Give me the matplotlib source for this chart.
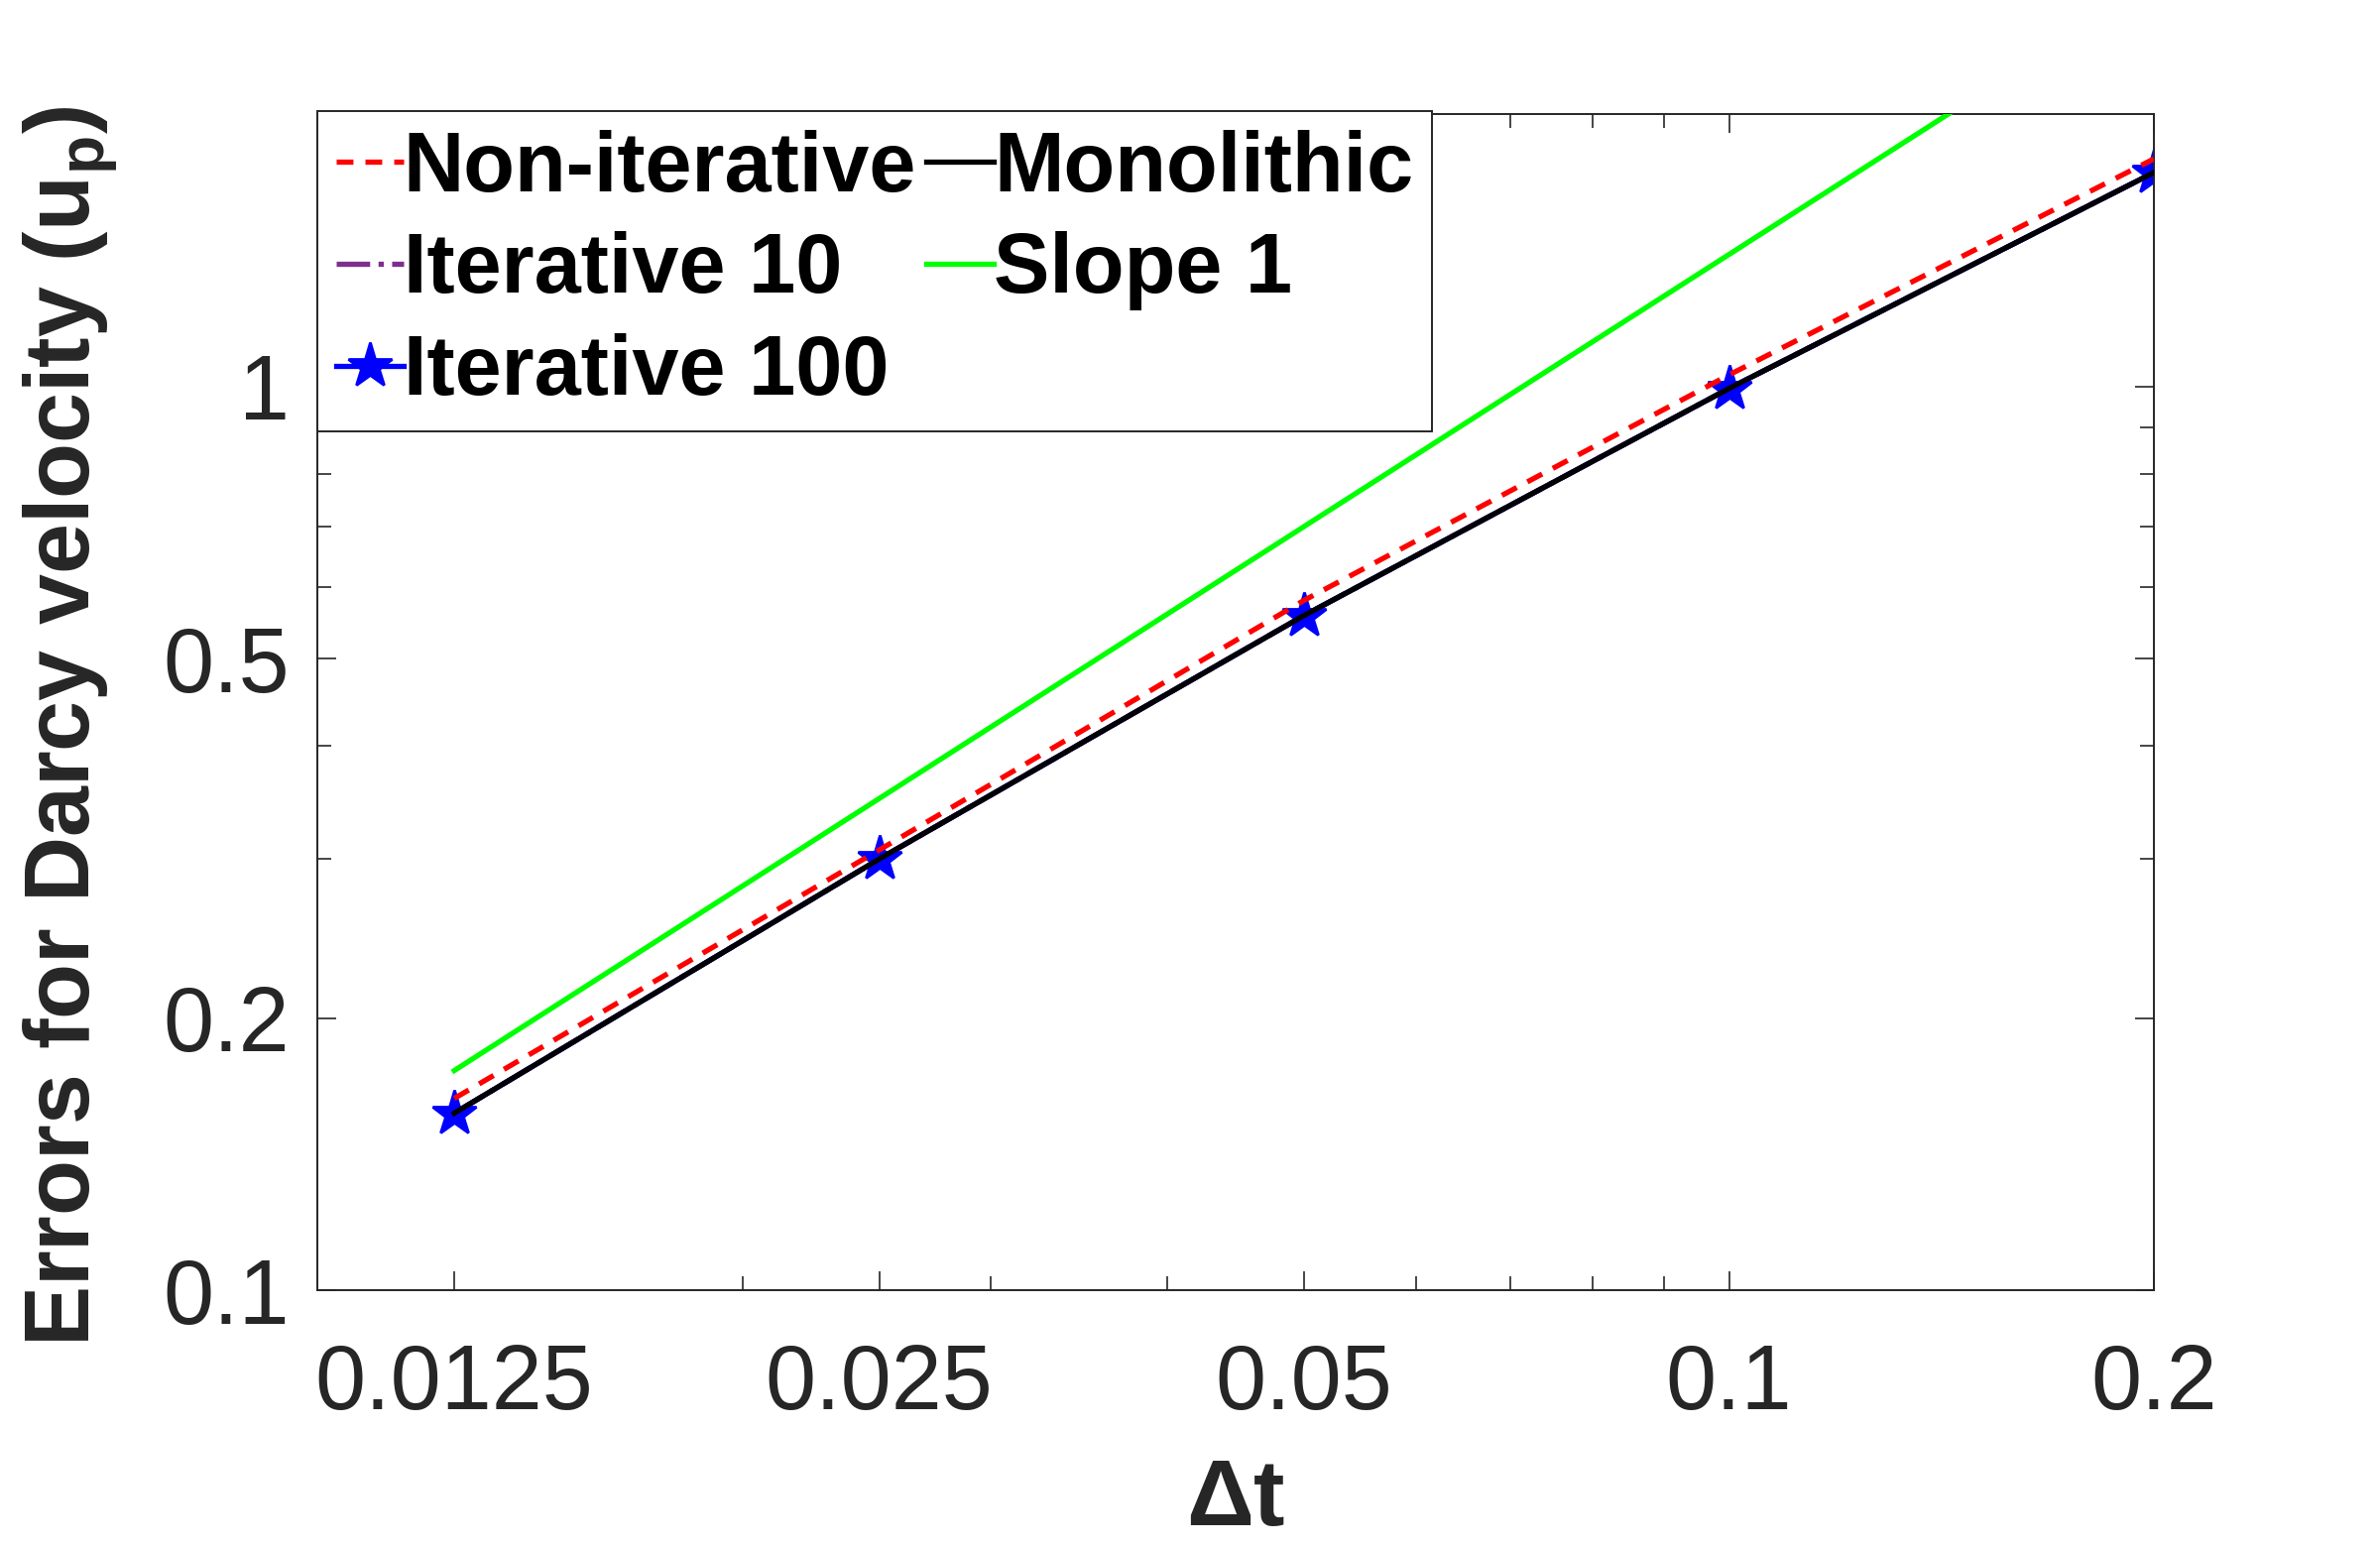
import matplotlib
matplotlib.use("Agg")
import matplotlib.pyplot as plt
from matplotlib.ticker import FixedLocator, NullFormatter, FixedFormatter

plt.rcParams['font.family'] = ['Liberation Sans', 'DejaVu Sans']
plt.rcParams['mathtext.fontset'] = 'custom'
plt.rcParams['mathtext.rm'] = 'Liberation Sans'
plt.rcParams['mathtext.bf'] = 'Liberation Sans:bold'

dt = [0.0125, 0.025, 0.05, 0.1, 0.2]
non_iterative = [0.163, 0.307, 0.580, 1.03, 1.786]
monolithic = [0.157, 0.300, 0.558, 0.995, 1.725]
iterative_10 = [0.157, 0.300, 0.558, 0.995, 1.725]
iterative_100 = [0.157, 0.300, 0.558, 0.995, 1.725]
slope_1 = [0.175, 0.35, 0.70, 1.40, 2.80]

x_ticks = [0.0125, 0.025, 0.05, 0.1, 0.2]
x_tick_labels = ['0.0125', '0.025', '0.05', '0.1', '0.2']
x_minor = [0.02, 0.03, 0.04, 0.06, 0.07, 0.08, 0.09]
y_ticks = [0.1, 0.2, 0.5, 1]
y_tick_labels = ['0.1', '0.2', '0.5', '1']
y_minor = [0.3, 0.4, 0.6, 0.7, 0.8, 0.9]

fig = plt.figure(figsize=(12, 7.8), dpi=200)
ax = fig.add_axes([0.1334, 0.166, 0.7716, 0.760])

lw = 1.9
h1, = ax.plot(dt, non_iterative, '--', color='red', lw=lw, dashes=(3.2, 2.3), zorder=3, label='Non-iterative')
h3, = ax.plot(dt, iterative_10, '-.', color='#7E2F8E', lw=lw, zorder=2, label='Iterative 10')
h5, = ax.plot(dt, iterative_100, '-', color='blue', lw=lw, marker='*', markersize=17,
              markerfacecolor='blue', markeredgecolor='blue', zorder=2.5, label='Iterative 100')
h2, = ax.plot(dt, monolithic, '-', color='black', lw=lw, zorder=4, label='Monolithic')
h4, = ax.plot(dt, slope_1, '-', color='#00FF00', lw=lw, zorder=3, label='Slope 1')

ax.set_xscale('log')
ax.set_yscale('log')
ax.set_xlim(0.01, 0.2)
ax.set_ylim(0.1, 2.0)

ax.xaxis.set_major_locator(FixedLocator(x_ticks))
ax.xaxis.set_major_formatter(FixedFormatter(x_tick_labels))
ax.xaxis.set_minor_locator(FixedLocator(x_minor))
ax.xaxis.set_minor_formatter(NullFormatter())
ax.yaxis.set_major_locator(FixedLocator(y_ticks))
ax.yaxis.set_major_formatter(FixedFormatter(y_tick_labels))
ax.yaxis.set_minor_locator(FixedLocator(y_minor))
ax.yaxis.set_minor_formatter(NullFormatter())

tc = '#262626'
ax.tick_params(which='both', direction='in', top=True, right=True, colors=tc, width=0.6)
ax.tick_params(which='major', length=7)
ax.tick_params(which='minor', length=5)
ax.tick_params(axis='x', which='major', labelsize=33, pad=19)
ax.tick_params(axis='y', which='major', labelsize=33, pad=10)
for s in ax.spines.values():
    s.set_color(tc)
    s.set_linewidth(0.7)

ax.set_xlabel(r'$\mathbf{\Delta t}$', fontsize=34, fontweight='bold', color=tc)
ax.xaxis.set_label_coords(0.5, -0.142)
ax.set_ylabel(r'Errors for Darcy velocity (u$_{\mathbf{p}}$)', fontsize=33, fontweight='bold', color=tc)
ax.yaxis.set_label_coords(-0.108, 0.48)

leg = ax.legend(handles=[h1, h3, h5, h2, h4], ncol=2, loc='upper left',
                bbox_to_anchor=(0.0, 1.003), borderaxespad=0.0,
                prop={'family': 'Liberation Sans', 'weight': 'bold', 'size': 30.5},
                handlelength=0.8, handletextpad=0.0, columnspacing=0.12,
                borderpad=0.22, labelspacing=0.27, fancybox=False, framealpha=1,
                edgecolor=tc)
leg.get_frame().set_linewidth(0.7)

fig.savefig('out.png', dpi=200)
